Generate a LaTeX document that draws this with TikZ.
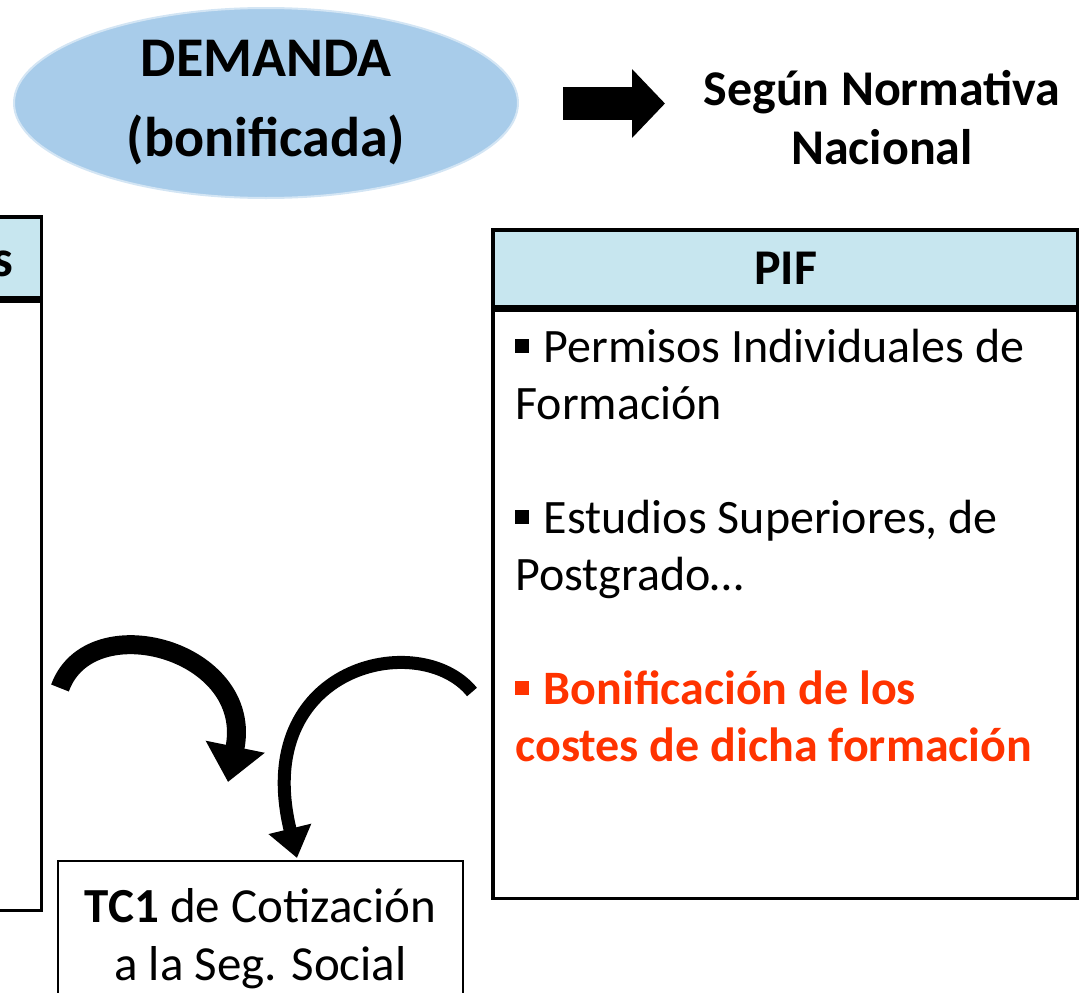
\documentclass[tikz,border=0pt]{standalone}
\usepackage{fontspec}
\setmainfont{Carlito}
\usepackage{tikz}
\usetikzlibrary{calc}
\usetikzlibrary{shapes}
\usetikzlibrary{arrows.meta}
\definecolor{demblue}{HTML}{A8CCEA}
\definecolor{demedge}{HTML}{D3E5F4}
\definecolor{headcyan}{HTML}{C7E6EF}
\definecolor{bonred}{HTML}{FF3300}
\tikzset{
        boxline/.style={draw, line width=3.5pt},
        headband/.style={boxline, fill=headcyan},
        bigbend/.style={line width=19pt, -{Triangle[length=36pt,width=58pt]}}
}
\newcommand*\sq{\rule[0.2em]{0.29em}{0.29em}\hspace{0.3em}}

\begin{document}
\begin{tikzpicture}[x=1pt,y=-1pt]
        \useasboundingbox (0,0) rectangle (1079,993);
        \node[ellipse, fill=demblue, draw=demedge, line width=2pt, minimum width=504pt, minimum height=190pt, align=center, font=\bfseries\fontsize{56}{80}\selectfont] (demanda) at (266,103) {DEMANDA\\(bonificada)};
        \coordinate (bfrom) at (563,103.5);
        \coordinate (bto) at (665,103.5);
        \draw[line width=33pt, -{Triangle[length=33pt,width=67pt]}] (bfrom) -- (bto);
        \node[align=center, font=\bfseries\fontsize{50}{59}\selectfont] (normativa) at (882,118) {Según Normativa\\Nacional};
        \node[headband, minimum width=200pt, minimum height=81pt, anchor=north east] (lhead) at (43,215) {};
        \node[boxline, minimum width=200pt, minimum height=609pt, anchor=north east] (lbody) at (lhead.south east) {};
        \node[anchor=base west, inner sep=0pt, font=\bfseries\fontsize{52}{60}\selectfont] (lcut) at (-8,276) {s};
        \node[headband, minimum width=585pt, minimum height=77pt, font=\bfseries\fontsize{50}{56}\selectfont] (pif) at (785.5,268.5) {PIF};
        \node[boxline, anchor=north, minimum width=585pt, minimum height=588pt] (pifbody) at (pif.south) {};
        \node[anchor=north west, text width=570pt, align=flush left, inner sep=0pt, font=\fontsize{48}{57}\selectfont] (piftext) at ($(pifbody.north west)+(24,20)$) {\sq Permisos Individuales de\\Formación\\[57pt]\sq Estudios Superiores, de\\Postgrado…\\[57pt]\color{bonred}\bfseries\sq Bonificación de los\\costes de dicha formación};
        \node[draw, line width=1.5pt, anchor=north, minimum width=405pt, inner ysep=28pt, align=center, font=\fontsize{49}{58}\selectfont] (tc) at (260.5,860) {\textbf{TC1} de Cotización\\a la Seg. Social};
        \coordinate (l1) at (60,688);
        \coordinate (l2) at (228,782);
        \draw[bigbend] (l1) .. controls (90,605) and (255,650) .. (l2);
        \coordinate (r1) at (472,692);
        \coordinate (r2) at (297,858);
        \draw[bigbend, line width=13pt, -{Triangle[length=30pt,width=42pt]}] (r1) .. controls (420,628) and (250,665) .. (r2);
\end{tikzpicture}
\end{document}
